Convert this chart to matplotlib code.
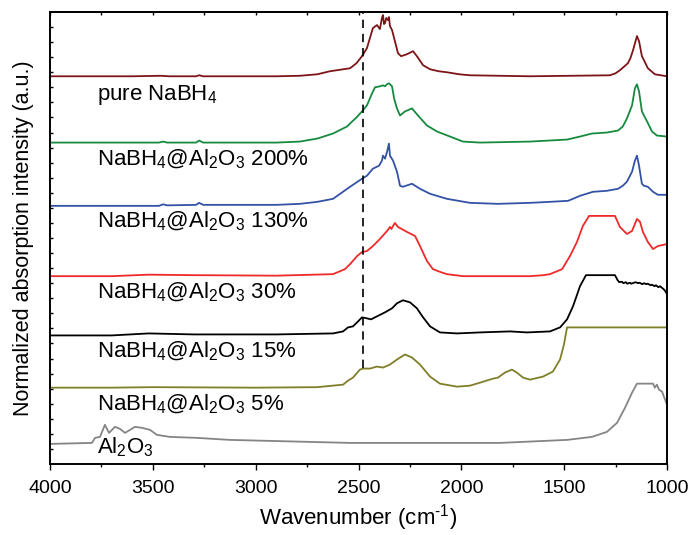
import matplotlib
matplotlib.use('Agg')
import matplotlib.pyplot as plt
import numpy as np

plt.rcParams['font.family'] = ['Liberation Sans', 'DejaVu Sans']
plt.rcParams['mathtext.fontset'] = 'custom'
plt.rcParams['mathtext.rm'] = 'Liberation Sans'
plt.rcParams['mathtext.it'] = 'Liberation Sans'

# Spectra: wavenumber (cm-1) and absorption (a.u., above each curve's own baseline)
pure_w = [4000, 3600, 3460, 3420, 3290, 3275, 3255, 2900, 2785, 2700, 2639, 2590, 2541, 2510,
          2483, 2459, 2430, 2410, 2396, 2386, 2381, 2376, 2371, 2365, 2357, 2352, 2347, 2337,
          2323, 2308, 2293, 2264, 2235, 2216, 2186, 2152, 2110, 2070, 2010, 1958, 1666, 1277,
          1250, 1229, 1190, 1178, 1165, 1146, 1136, 1122, 1112, 1093, 1059, 1000]
pure_a = [0, 0, 0.5, 0, 0, 1, 0, 0, 0.5, 2, 5, 6.5, 8, 13,
          20, 28, 48, 51, 47, 58, 61, 52, 53, 58, 56, 59, 50, 46,
          35, 23, 20, 22, 25, 20, 11, 7, 5, 4, 2, 1, 0, 1,
          3, 6, 13, 18, 26, 40, 35, 20, 16, 8, 2, 0]

w200_w = [4000, 3470, 3450, 3430, 3290, 3275, 3255, 2900, 2785, 2700, 2624, 2556, 2541, 2510,
          2483, 2459, 2434, 2420, 2396, 2381, 2371, 2362, 2352, 2342, 2337, 2327, 2313, 2298,
          2274, 2240, 2211, 2167, 2118, 2055, 1992, 1909, 1666, 1486, 1423, 1365, 1292, 1238,
          1215, 1195, 1170, 1156, 1146, 1136, 1122, 1112, 1097, 1073, 1049, 1000]
w200_a = [0, 0, 1, 0, 0, 2, 0, 0, 1, 4, 9, 16, 19, 25,
          31, 37, 49, 55, 56, 57, 56, 58, 59, 57, 56, 44, 34, 27,
          31, 34, 27, 17, 11, 6, 1, 0, 1, 3, 6, 9, 10, 12,
          16, 24, 37, 54, 58, 51, 31, 27, 21, 11, 7, 6]

w130_w = [4000, 3470, 3450, 3430, 3290, 3275, 3255, 2900, 2785, 2700, 2624, 2541, 2483, 2459,
          2430, 2400, 2386, 2381, 2371, 2361, 2352, 2347, 2332, 2313, 2298, 2284, 2240, 2201,
          2152, 2070, 1958, 1822, 1666, 1569, 1481, 1423, 1360, 1292, 1238, 1215, 1195, 1170,
          1156, 1146, 1136, 1122, 1112, 1093, 1068, 1044, 1000]
w130_a = [0, 0, 1.5, 0.5, 1, 3, 1, 1, 2, 4, 7, 19, 27, 30,
          37, 40, 45, 50, 47, 54, 62, 50, 45, 34, 20, 19, 22, 17,
          12, 7, 3, 2, 3, 4, 5, 10, 14, 15, 17, 20, 24, 34,
          45, 50, 40, 22, 20, 19, 14, 11, 11]

w30_w = [4000, 3700, 3520, 3300, 2900, 2624, 2566, 2556, 2541, 2507, 2483, 2459, 2430, 2396,
         2361, 2347, 2340, 2332, 2323, 2308, 2264, 2225, 2201, 2167, 2138, 2100, 2070, 1992,
         1666, 1600, 1569, 1510, 1472, 1438, 1409, 1379, 1253, 1229, 1195, 1170, 1146, 1131,
         1117, 1093, 1068, 1044, 1000]
w30_a = [0, 0, 1.5, 1, 0.5, 2, 7, 9, 12, 20, 24, 25, 30, 37,
         45, 49, 47, 50, 53, 49, 44, 40, 30, 15, 7, 4, 2, 0,
         0, 1, 2, 7, 20, 34, 50, 60, 60, 49, 42, 45, 57, 54,
         44, 34, 27, 30, 32]

w15_w = [4000, 3700, 3520, 3300, 2900, 2624, 2575, 2551, 2527, 2502, 2483, 2459, 2439, 2410,
         2371, 2337, 2313, 2284, 2250, 2216, 2186, 2152, 2104, 2021, 1909, 1764, 1681, 1569,
         1520, 1486, 1457, 1423, 1394, 1253, 1240, 1232, 1219, 1212, 1200, 1193, 1180, 1174,
         1160, 1153, 1140, 1134, 1120, 1112, 1100, 1094, 1080, 1073, 1060, 1054, 1042, 1034,
         1025, 1016, 1008, 1000]
w15_a = [0, 0, 2, 1, 1, 2, 4, 8, 9, 14, 18, 17, 16, 19,
         23, 27, 32, 35, 33, 27, 18, 9, 3, 2, 3, 4, 3, 4,
         8, 16, 29, 49, 60, 60, 55, 53, 53.5, 52, 53, 51.5, 52.5, 51.5,
         52.5, 53, 52, 52.5, 51, 52, 51, 51.5, 50, 50.5, 49, 50, 48, 49,
         47.5, 46, 44, 41]

w5_w = [4000, 3700, 3500, 3000, 2700, 2575, 2551, 2527, 2493, 2478, 2444, 2410, 2381, 2347,
        2313, 2274, 2240, 2201, 2152, 2104, 2021, 1958, 1909, 1846, 1822, 1788, 1754, 1730,
        1700, 1666, 1603, 1555, 1520, 1501, 1486, 1000]
w5_a = [0, 0, 0.5, 0, 0.5, 3, 7, 10, 18, 19, 19, 21, 20, 23,
        28, 33, 30, 23, 11, 4, 1, 2, 5, 9, 10, 15, 18, 15,
        10, 8, 11, 16, 28, 43, 60, 60]

al_w = [4000, 3796, 3781, 3757, 3733, 3713, 3684, 3660, 3635, 3611, 3587, 3553, 3514, 3480,
        3417, 3285, 3125, 2541, 1812, 1486, 1365, 1292, 1243, 1204, 1170, 1146, 1068, 1059,
        1049, 1039, 1024, 1000]
al_a = [0, 1, 6, 7, 19, 11, 17, 15, 11, 14, 17, 16, 14, 9,
        7, 6, 4, 1, 1, 4, 7, 12, 21, 36, 51, 60, 60, 56,
        59, 54, 52, 39]

spectra = [(pure_w, pure_a), (w200_w, w200_a), (w130_w, w130_a), (w30_w, w30_a),
           (w15_w, w15_a), (w5_w, w5_a), (al_w, al_a)]
offsets = [386, 320, 257, 187, 128, 76, 20]
colors = ['#7d1518', '#168a3e', '#3452a6', '#ee2a2a', '#000000', '#7f7f2a', '#858585']
labels = [r'pure NaBH$_4$',
          r'NaBH$_4$@Al$_2$O$_3$ 200%',
          r'NaBH$_4$@Al$_2$O$_3$ 130%',
          r'NaBH$_4$@Al$_2$O$_3$ 30%',
          r'NaBH$_4$@Al$_2$O$_3$ 15%',
          r'NaBH$_4$@Al$_2$O$_3$ 5%',
          r'Al$_2$O$_3$']
label_y = [362, 297, 236, 165, 106, 53, 11]
label_x = 3772
ref_wavenumber = 2480
ref_bottom = 96


def main():
    fig = plt.figure(figsize=(6.88, 5.35), dpi=100)
    ax = fig.add_axes([50 / 688, 1 - 464 / 535, 617 / 688, 452 / 535])

    for (w, a), off, c in zip(spectra, offsets, colors):
        ax.plot(w, np.array(a) + off, color=c, lw=1.3)

    for lab, y in zip(labels, label_y):
        ax.text(label_x, y, lab, fontsize=16, va='baseline', ha='left')

    # dashed reference line
    ax.axvline(ref_wavenumber, ymin=ref_bottom / 450, ymax=1, color='black',
               lw=1.2, ls=(0, (5, 3.5)))

    ax.set_xlim(4000, 1000)
    ax.set_ylim(0, 450)
    ax.set_xticks([4000, 3500, 3000, 2500, 2000, 1500, 1000])
    ax.set_xticks(np.arange(1250, 4000, 500), minor=True)
    ax.set_yticks(np.arange(15, 450, 15))
    ax.set_yticklabels([])
    ax.tick_params(axis='x', which='major', direction='out', length=4.5, width=1, labelsize=14, pad=7)
    ax.tick_params(axis='x', which='minor', direction='out', length=2.5, width=1)
    ax.tick_params(axis='y', direction='in', length=2.5, width=1)

    top = ax.secondary_xaxis('top')
    top.set_xticks(np.arange(1000, 4001, 250))
    top.set_xticklabels([])
    top.tick_params(direction='in', length=2.5, width=1)

    for s in ax.spines.values():
        s.set_linewidth(1.4)
    top.spines['top'].set_linewidth(1.4)

    ax.set_xlabel(r'Wavenumber (cm$^{\text{-1}}$)', fontsize=16, labelpad=4)
    ax.set_ylabel('Normalized absorption intensity (a.u.)', fontsize=15.5, labelpad=8)

    fig.savefig('out.png', dpi=100)


if __name__ == "__main__": main()
